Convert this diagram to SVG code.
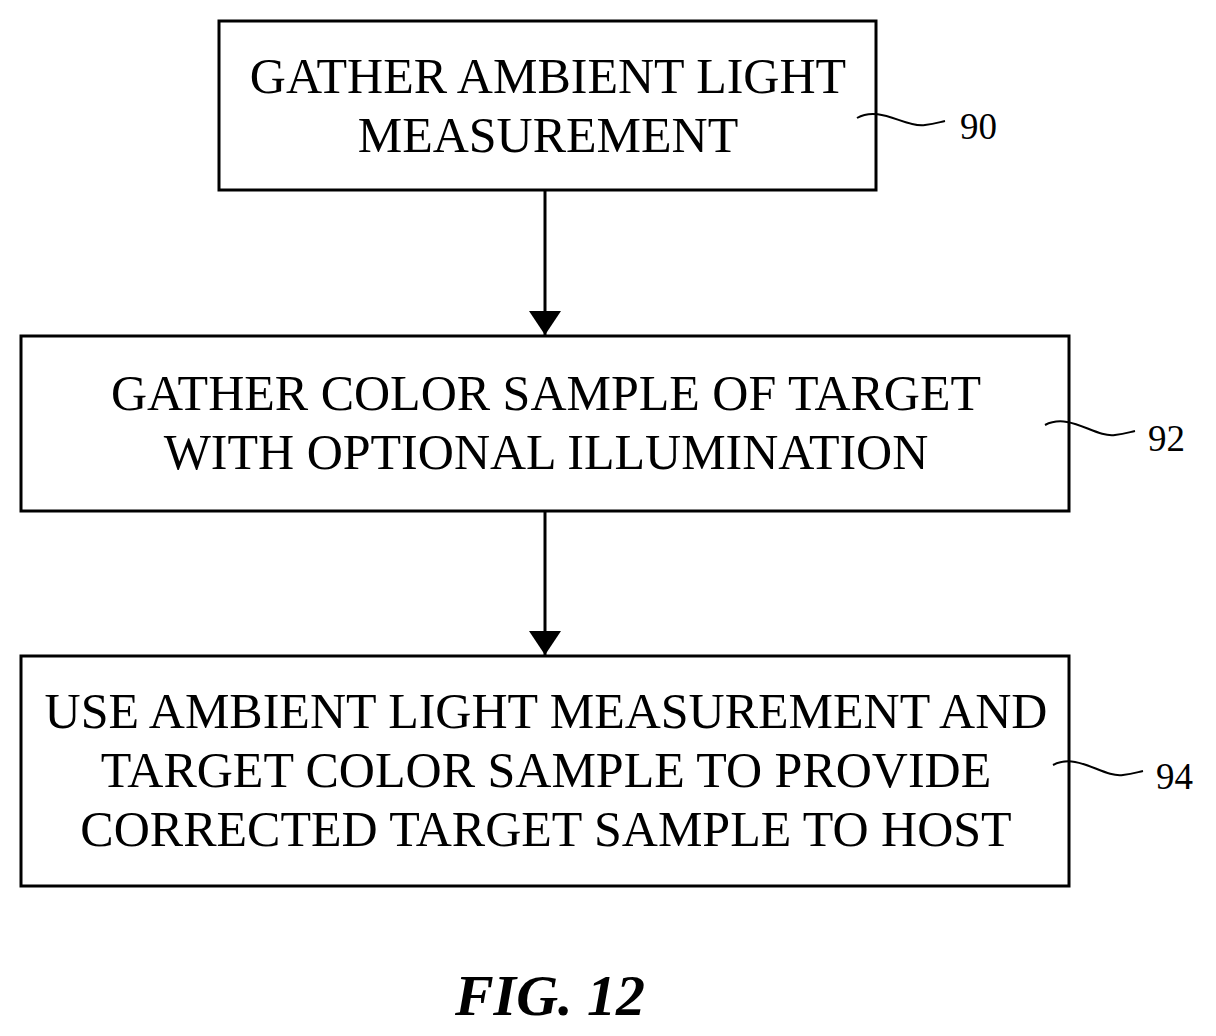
<svg xmlns="http://www.w3.org/2000/svg" width="1216" height="1036" viewBox="0 0 1216 1036">
<style>
.b{fill:#fff;stroke:#000;stroke-width:3}
.t{font-family:"Liberation Serif",serif;font-size:50px;text-anchor:middle;fill:#000}
.l{font-family:"Liberation Serif",serif;font-size:37px;fill:#000}
.s{fill:none;stroke:#000;stroke-width:2}
.c{stroke:#000;stroke-width:3;fill:none}
</style>
<defs>
<marker id="ah" viewBox="0 0 24 32" refX="24" refY="16" markerWidth="24" markerHeight="32" orient="auto" markerUnits="userSpaceOnUse"><path d="M0,0L24,16L0,32z" fill="#000"/></marker></defs>
<rect width="1216" height="1036" fill="#fff"/>
<g id="connectors">
<line class="c" x1="545" y1="190" x2="545" y2="335" marker-end="url(#ah)"/>
<line class="c" x1="545" y1="511" x2="545" y2="655" marker-end="url(#ah)"/>
</g>
<g id="n90"><rect class="b" x="219" y="21" width="657" height="169"/>
<text class="t" x="548" y="93">GATHER AMBIENT LIGHT</text><text class="t" x="548" y="152">MEASUREMENT</text>
<path class="s" d="M857,118 C880,105 905,128 925,125 C935,124 940,122 945,121"/><text class="l" x="960" y="139">90</text></g>
<g id="n92"><rect class="b" x="21" y="336" width="1048" height="175"/>
<text class="t" x="546" y="410">GATHER COLOR SAMPLE OF TARGET</text><text class="t" x="546" y="469">WITH OPTIONAL ILLUMINATION</text>
<path class="s" d="M1045,425 C1070,412 1095,438 1115,435 C1125,434 1130,432 1135,431"/><text class="l" x="1148" y="451">92</text></g>
<g id="n94"><rect class="b" x="21" y="656" width="1048" height="230"/>
<text class="t" x="546" y="728">USE AMBIENT LIGHT MEASUREMENT AND</text><text class="t" x="546" y="787">TARGET COLOR SAMPLE TO PROVIDE</text><text class="t" x="546" y="846">CORRECTED TARGET SAMPLE TO HOST</text>
<path class="s" d="M1053,765 C1078,752 1103,778 1123,775 C1133,774 1138,772 1143,771"/><text class="l" x="1156" y="789">94</text></g>
<text x="550" y="1015" style="font-family:'Liberation Serif',serif;font-size:58px;font-style:italic;font-weight:bold;text-anchor:middle">FIG. 12</text>
</svg>
